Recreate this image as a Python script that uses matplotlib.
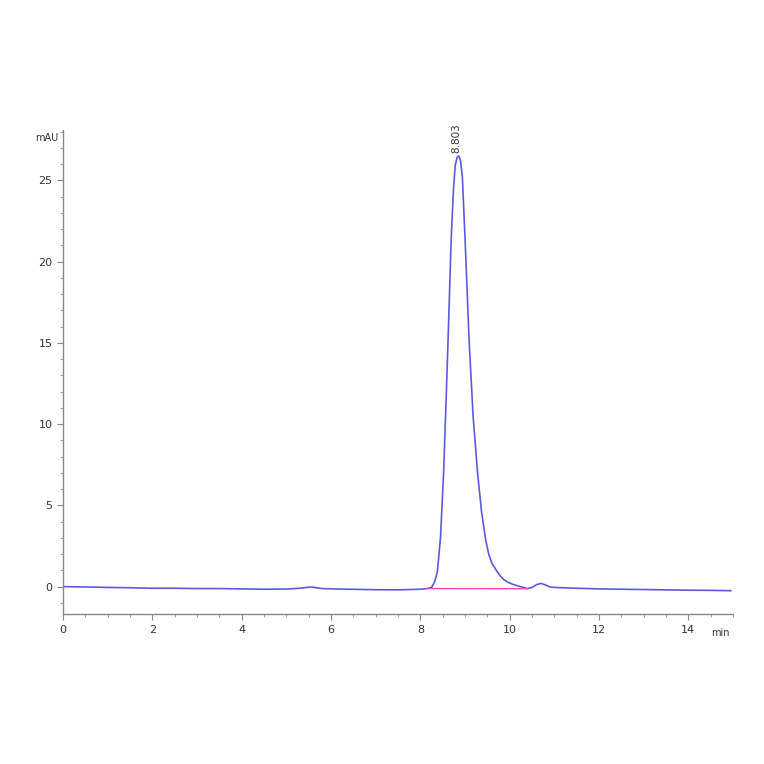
import numpy as np
import matplotlib
matplotlib.use('Agg')
import matplotlib.pyplot as plt
from matplotlib.ticker import MultipleLocator

# Cromatograma (tempo em min, sinal em mAU)
tempo = [0.0, 0.5, 1.0, 1.5, 2.0, 2.5, 3.0, 3.5, 4.0, 4.5, 5.0, 5.3, 5.55, 5.8,
         6.2, 6.6, 7.0, 7.5, 8.0, 8.15, 8.25, 8.32, 8.38, 8.45, 8.52, 8.57,
         8.62, 8.69, 8.74, 8.78, 8.82, 8.86, 8.9, 8.94, 9.0, 9.09, 9.18, 9.28,
         9.37, 9.46, 9.53, 9.6, 9.69, 9.77, 9.86, 9.95, 10.05, 10.2, 10.4,
         10.5, 10.6, 10.7, 10.8, 10.9, 11.0, 11.5, 12.0, 12.5, 13.0, 13.5,
         14.0, 14.5, 14.95]
sinal = [0.0, -0.02, -0.05, -0.07, -0.1, -0.1, -0.12, -0.12, -0.14, -0.16,
         -0.15, -0.1, -0.02, -0.12, -0.15, -0.17, -0.19, -0.2, -0.16, -0.12,
         -0.05, 0.3, 0.9, 3.0, 7.0, 11.0, 15.2, 21.4, 24.4, 25.9, 26.4, 26.5,
         26.2, 25.2, 21.4, 15.2, 10.5, 7.0, 4.6, 2.9, 2.0, 1.45, 1.05, 0.72,
         0.45, 0.28, 0.16, 0.03, -0.12, -0.05, 0.12, 0.2, 0.1, -0.02, -0.05,
         -0.1, -0.14, -0.16, -0.18, -0.2, -0.22, -0.23, -0.25]

# Linha de base da integração
base_t = [8.15, 10.4]
base_y = [-0.12, -0.13]

pico_t = 8.803
pico_label = '8.803'

fig = plt.figure(figsize=(7.64, 7.64), dpi=100)
ax = fig.add_axes([0.0825, 0.196, 0.877, 0.634])

ax.plot(tempo, sinal, color='#5a5ae0', linewidth=1.2)
ax.plot(base_t, base_y, color='#ff44cc', linewidth=1.0)

ax.text(pico_t, max(sinal) + 0.2, pico_label, rotation=90, ha='center',
        va='bottom', fontsize=7.5, color='#333333')

ax.set_xlim(0, 15)
ax.set_ylim(-1.7, 28.1)
ax.xaxis.set_major_locator(MultipleLocator(2))
ax.xaxis.set_minor_locator(MultipleLocator(0.5))
ax.yaxis.set_major_locator(MultipleLocator(5))
ax.yaxis.set_minor_locator(MultipleLocator(1))

for s in ['top', 'right']:
    ax.spines[s].set_visible(False)
for s in ['left', 'bottom']:
    ax.spines[s].set_color('#888888')
    ax.spines[s].set_linewidth(1.0)

ax.tick_params(which='both', direction='out', colors='#888888', labelcolor='#333333',
               labelsize=8)
ax.tick_params(which='major', length=4)
ax.tick_params(which='minor', length=2.5)

fig.text(0.046, 0.82, 'mAU', fontsize=7, color='#333333', ha='left', va='center')
fig.text(0.955, 0.172, 'min', fontsize=7, color='#333333', ha='right', va='center')

fig.savefig('out.png', dpi=100)
